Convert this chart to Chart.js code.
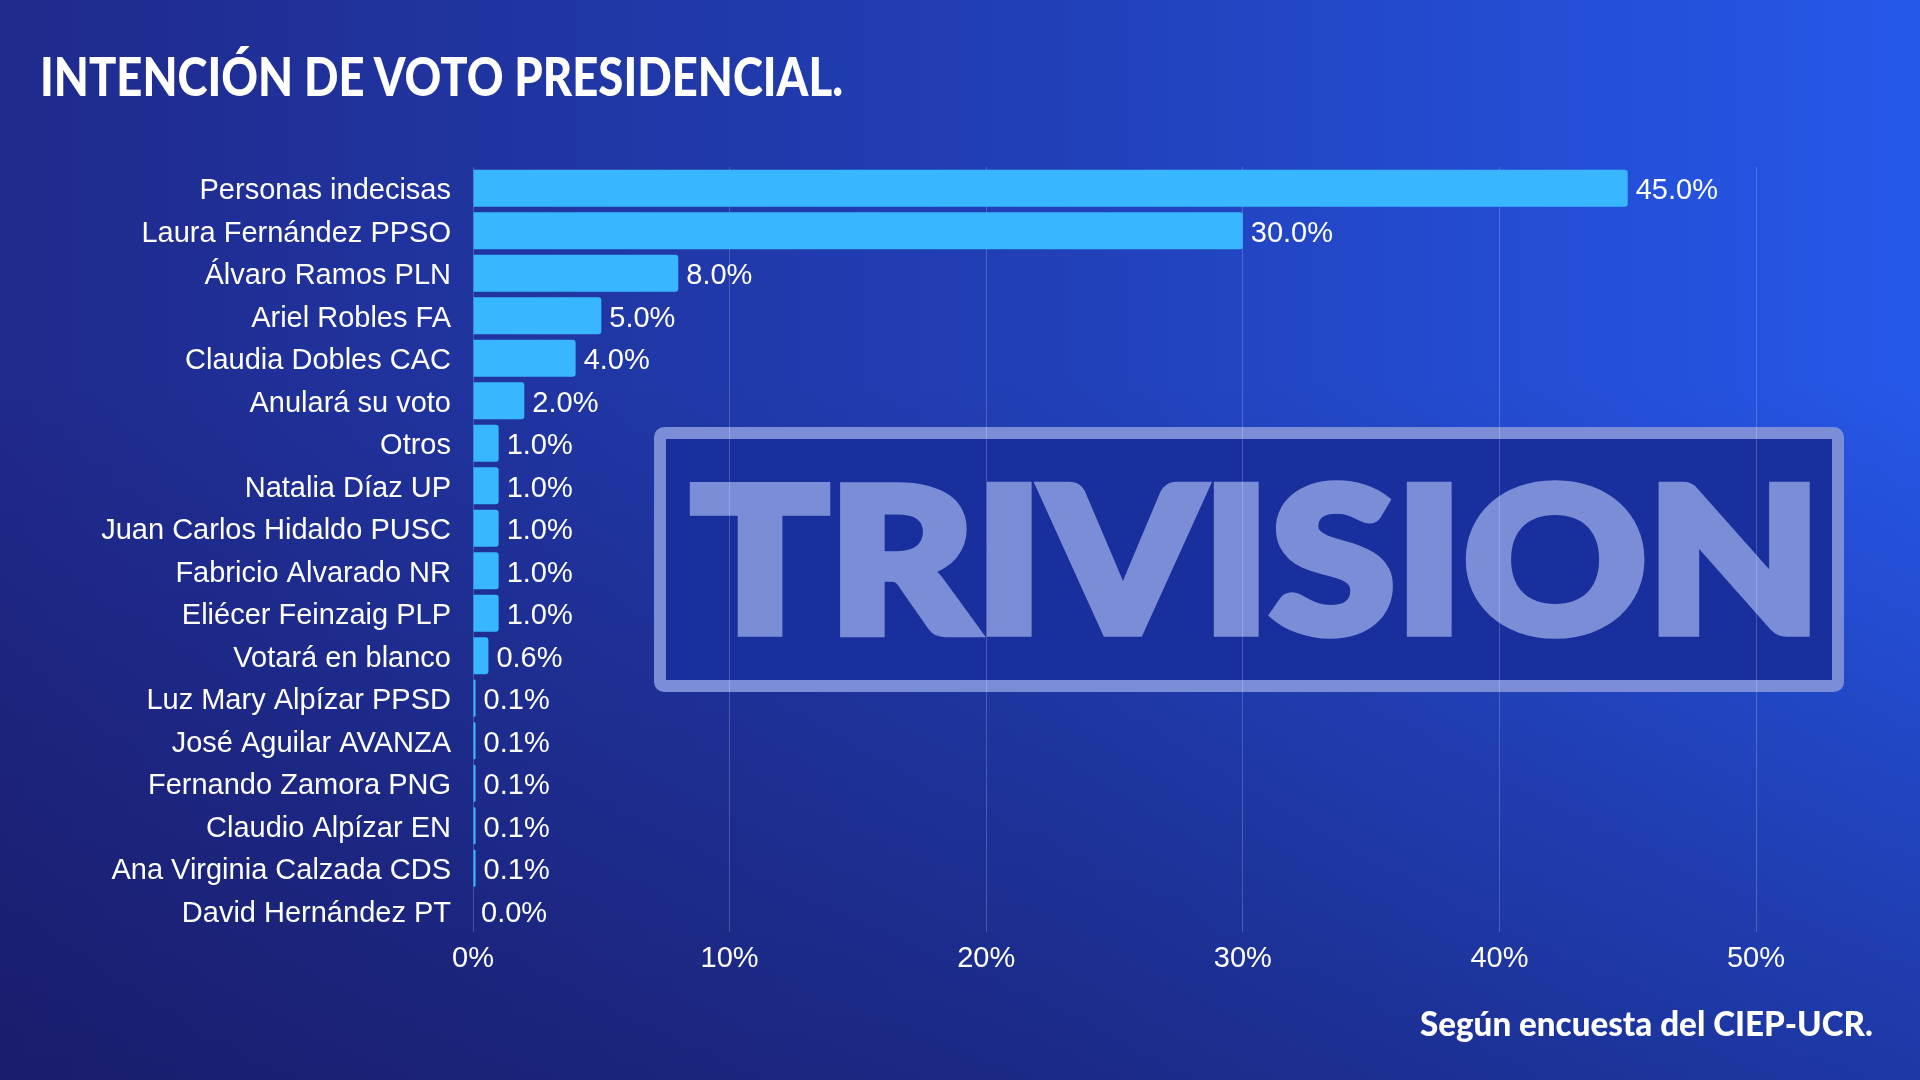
<!DOCTYPE html>
<html lang="es">
<head>
<meta charset="utf-8">
<title>Intención de voto presidencial</title>
<script src="https://cdn.jsdelivr.net/npm/chart.js@4.4.1/dist/chart.umd.min.js"></script>
<style>
  html, body {
    margin: 0;
    padding: 0;
    width: 1920px;
    height: 1080px;
    overflow: hidden;
  }
  body {
    position: relative;
    background:
      linear-gradient(to bottom, rgba(18, 8, 60, 0) 35%, rgba(18, 8, 60, 0.4) 100%),
      linear-gradient(to right, #1f2a8c 0%, #2140b8 55%, #2658ea 100%);
  }
  #chart {
    position: absolute;
    left: 0;
    top: 0;
  }
  .txt {
    position: absolute;
    color: #fff;
    font-family: Lato, "Open Sans", sans-serif;
    line-height: 1;
    white-space: nowrap;
    transform-origin: left top;
  }
  #title {
    left: 40px;
    top: 49px;
    font-size: 53px;
    font-weight: 900;
  }
  #source {
    left: 1420px;
    top: 1005px;
    font-size: 35px;
    font-weight: 900;
  }
</style>
</head>
<body>
<canvas id="chart" width="1920" height="1080"></canvas>
<div id="title" class="txt">INTENCIÓN DE VOTO PRESIDENCIAL.</div>
<div id="source" class="txt">Según encuesta del CIEP-UCR.</div>
<script>
const categories = [
  "Personas indecisas",
  "Laura Fernández PPSO",
  "Álvaro Ramos PLN",
  "Ariel Robles FA",
  "Claudia Dobles CAC",
  "Anulará su voto",
  "Otros",
  "Natalia Díaz UP",
  "Juan Carlos Hidaldo PUSC",
  "Fabricio Alvarado NR",
  "Eliécer Feinzaig PLP",
  "Votará en blanco",
  "Luz Mary Alpízar PPSD",
  "José Aguilar AVANZA",
  "Fernando Zamora PNG",
  "Claudio Alpízar EN",
  "Ana Virginia Calzada CDS",
  "David Hernández PT"
];
const votePercent = [45.0, 30.0, 8.0, 5.0, 4.0, 2.0, 1.0, 1.0, 1.0, 1.0, 1.0, 0.6, 0.1, 0.1, 0.1, 0.1, 0.1, 0.0];
const xTickValues = [0, 10, 20, 30, 40, 50];
const watermarkText = "TRIVISION";

const labelFont = { family: "Arial, 'Liberation Sans', sans-serif", size: 29 };

// squeeze the html title/footer to the width they have in the picture
function fitWidth(id, target) {
  const el = document.getElementById(id);
  const w = el.getBoundingClientRect().width;
  el.style.transform = "scaleX(" + (target / w) + ")";
}
fitWidth("title", 803);
fitWidth("source", 453);

// boxed logo behind the grid
const watermark = {
  id: "watermark",
  beforeDraw(chart) {
    const ctx = chart.ctx;
    const light = "#7b8dd6";
    ctx.save();
    const x0 = 654, y0 = 427, x1 = 1844, y1 = 692, bw = 12;
    ctx.fillStyle = light;
    ctx.beginPath();
    ctx.roundRect(x0, y0, x1 - x0, y1 - y0, 10);
    ctx.fill();
    ctx.fillStyle = "#1a2f9e";
    ctx.fillRect(x0 + bw, y0 + bw, x1 - x0 - 2 * bw, y1 - y0 - 2 * bw);

    // heavy letters: fill plus a stroke, fitted to the logo's box
    const sw = 10;
    ctx.font = "900 100px Lato, 'DejaVu Sans', sans-serif";
    const m = ctx.measureText(watermarkText);
    const w = m.actualBoundingBoxLeft + m.actualBoundingBoxRight;
    const h = m.actualBoundingBoxAscent + m.actualBoundingBoxDescent;
    const sx = (1121 - sw) / w, sy = (158 - sw) / h;
    ctx.translate(689 + sw / 2, 481 + sw / 2);
    ctx.scale(sx, sy);
    ctx.textAlign = "left";
    ctx.textBaseline = "alphabetic";
    ctx.fillStyle = light;
    ctx.strokeStyle = light;
    ctx.lineJoin = "miter";
    ctx.lineWidth = sw / ((sx + sy) / 2);
    ctx.fillText(watermarkText, m.actualBoundingBoxLeft, m.actualBoundingBoxAscent);
    ctx.strokeText(watermarkText, m.actualBoundingBoxLeft, m.actualBoundingBoxAscent);
    ctx.restore();
  }
};

// percentage text at the end of each bar
const valueLabels = {
  id: "valueLabels",
  afterDatasetsDraw(chart) {
    const ctx = chart.ctx;
    const meta = chart.getDatasetMeta(0);
    ctx.save();
    ctx.font = labelFont.size + "px " + labelFont.family;
    ctx.fillStyle = "#ffffff";
    ctx.textAlign = "left";
    ctx.textBaseline = "middle";
    meta.data.forEach((bar, i) => {
      ctx.fillText(votePercent[i].toFixed(1) + "%", bar.x + 8, bar.y + 3);
    });
    ctx.restore();
  }
};

const ctx = document.getElementById("chart").getContext("2d");
new Chart(ctx, {
  type: "bar",
  data: {
    labels: categories,
    datasets: [{
      data: votePercent,
      backgroundColor: "#38b6ff",
      borderRadius: 3,
      borderSkipped: "start",
      barPercentage: 0.87,
      categoryPercentage: 1
    }]
  },
  options: {
    indexAxis: "y",
    responsive: false,
    animation: false,
    layout: {
      padding: { left: 0, top: 167, right: 164, bottom: 0 }
    },
    plugins: {
      legend: { display: false },
      tooltip: { enabled: false }
    },
    scales: {
      x: {
        min: xTickValues[0],
        max: xTickValues[xTickValues.length - 1],
        afterBuildTicks(scale) {
          scale.ticks = xTickValues.map((v) => ({ value: v }));
        },
        afterFit(scale) {
          scale.height = 148;
        },
        grid: {
          color: "rgba(255, 255, 255, 0.2)",
          lineWidth: 1,
          drawTicks: false
        },
        border: { display: false },
        ticks: {
          color: "#ffffff",
          font: labelFont,
          padding: 10,
          callback: (v) => v + "%"
        }
      },
      y: {
        afterFit(scale) {
          scale.width = 473;
        },
        grid: { display: false, drawTicks: false },
        border: { display: false },
        ticks: {
          color: "#ffffff",
          font: labelFont,
          padding: 22,
          labelOffset: 3,
          autoSkip: false
        }
      }
    }
  },
  plugins: [watermark, valueLabels]
});
</script>
</body>
</html>
